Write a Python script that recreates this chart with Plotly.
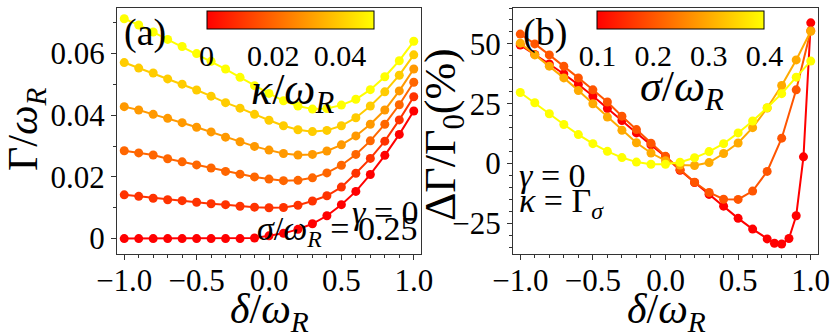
import plotly.graph_objects as go

# detuning grid (common to most curves)
DELTA = [-1.0, -0.9, -0.8, -0.7, -0.6, -0.5, -0.4, -0.3, -0.2, -0.1, 0.0,
         0.1, 0.2, 0.3, 0.4, 0.5, 0.6, 0.7, 0.8, 0.9, 1.0]

# panel (a): Gamma/omega_R for several kappa, sigma = 0.25
KAPPA = [0.0, 0.01, 0.02, 0.03, 0.04, 0.05]
GAMMA_A = [
    [0.0, 0.0, 0.0, 0.0, 0.0, 0.0, 0.0, 0.0, 0.0, 0.0002, 0.0009,
     0.0017, 0.003, 0.0048, 0.0074, 0.011, 0.0153, 0.0208, 0.027, 0.0338, 0.0414],
    [0.0142, 0.0137, 0.0131, 0.0126, 0.0123, 0.0118, 0.0113, 0.011, 0.0105, 0.0102, 0.0100,
     0.0101, 0.0108, 0.0122, 0.0139, 0.0167, 0.0212, 0.026, 0.0316, 0.0385, 0.046],
    [0.0285, 0.0278, 0.0271, 0.0259, 0.0249, 0.0239, 0.0229, 0.0218, 0.0209, 0.0200, 0.0193,
     0.0188, 0.0189, 0.0197, 0.0213, 0.0238, 0.0273, 0.0317, 0.0371, 0.0434, 0.0507],
    [0.0428, 0.0417, 0.0403, 0.0390, 0.0376, 0.0361, 0.0346, 0.0329, 0.0314, 0.0299, 0.0287,
     0.0276, 0.0271, 0.0273, 0.0284, 0.0304, 0.0333, 0.0371, 0.0417, 0.0479, 0.055],
    [0.0571, 0.0553, 0.0537, 0.0518, 0.0501, 0.0482, 0.0462, 0.0441, 0.0423, 0.0403, 0.0384,
     0.0366, 0.0353, 0.0347, 0.0351, 0.0366, 0.0392, 0.043, 0.0476, 0.053, 0.0596],
    [0.0713, 0.0693, 0.067, 0.0646, 0.0623, 0.06, 0.0575, 0.055, 0.0523, 0.0496, 0.0471,
     0.0447, 0.043, 0.042, 0.0422, 0.0433, 0.0452, 0.0483, 0.0525, 0.0577, 0.064],
]

# panel (b): relative change (%) for several sigma, kappa = Gamma_sigma
SIGMA = [0.1, 0.2, 0.3, 0.4]
DELTA_S01 = [-1.0, -0.9, -0.8, -0.7, -0.6, -0.5, -0.4, -0.3, -0.2, -0.1, 0.0,
             0.1, 0.2, 0.3, 0.4, 0.5, 0.6, 0.7, 0.75, 0.8, 0.85, 0.9, 0.95, 1.0]
DGAMMA_S01 = [49.5, 45.6, 41.6, 37.4, 33.0, 28.2, 23.0, 18.0, 12.8, 7.8, 2.8,
              -2.8, -7.9, -12.9, -17.8, -22.9, -27.4, -31.5, -33.3, -33.6, -31.3, -21.8, 2.8, 58.8]
DGAMMA_S02 = [54.1, 50.0, 45.4, 40.7, 35.8, 30.8, 25.7, 19.8, 14.2, 8.5, 3.0,
              -2.5, -7.8, -12.1, -14.9, -15.0, -11.5, -3.3, 10.6, 30.8, 55.5]
DGAMMA_S03 = [50.3, 45.4, 40.7, 35.8, 30.5, 25.0, 19.4, 13.9, 8.7, 4.4, 1.2,
              -0.6, -0.8, 0.4, 4.2, 8.6, 15.0, 23.2, 32.6, 43.3, 55.3]
DGAMMA_S04 = [29.7, 25.4, 20.8, 16.3, 12.1, 8.3, 5.1, 2.5, 0.6, -0.3, -0.3,
              0.55, 2.4, 5.0, 8.3, 12.8, 17.8, 23.3, 29.2, 36.1, 42.8]
SERIES_B = [
    (DELTA_S01, DGAMMA_S01),
    (DELTA, DGAMMA_S02),
    (DELTA, DGAMMA_S03),
    (DELTA, DGAMMA_S04),
]

W, H = 831, 336
FONT = "Liberation Serif"
AUTUMN = [[0.0, "rgb(255,0,0)"], [1.0, "rgb(255,255,0)"]]
TICK_SIZE = 31
LABEL_SIZE = 42


def px_x(x):
    return x / W


def px_y(y):
    return 1 - y / H


def autumn(t):
    return f"rgb(255,{round(255 * t)},0)"


def colorbar(center_x, tickvals, ticktext):
    return dict(
        orientation="h", x=px_x(center_x), xanchor="center", y=px_y(11), yanchor="top",
        len=167, lenmode="pixels", thickness=18, thicknessmode="pixels",
        xpad=0, ypad=0, outlinewidth=1, outlinecolor="black",
        tickvals=tickvals, ticktext=ticktext,
        ticks="", ticklen=0,
        tickfont=dict(family=FONT, size=TICK_SIZE - 1, color="black"),
    )


fig = go.Figure()

for i, (k, vals) in enumerate(zip(KAPPA, GAMMA_A)):
    t = (k - KAPPA[0]) / (KAPPA[-1] - KAPPA[0])
    marker = {"size": 9, "color": [k] * len(vals), "colorscale": AUTUMN,
              "cmin": 0.0, "cmax": 0.05}
    if i == len(KAPPA) - 1:
        marker.update(showscale=True, colorbar=colorbar(
            290, [0, 0.02, 0.04], ["0", "0.02", "0.04"]))
    fig.add_trace(go.Scatter(
        x=DELTA, y=vals, mode="lines+markers", xaxis="x", yaxis="y",
        line=dict(color=autumn(t), width=2), marker=marker, showlegend=False,
    ))

for i, (s, (xs, ys)) in enumerate(zip(SIGMA, SERIES_B)):
    t = (s - SIGMA[0]) / (SIGMA[-1] - SIGMA[0])
    marker = {"size": 9, "color": [s] * len(ys), "colorscale": AUTUMN,
              "cmin": 0.1, "cmax": 0.4}
    if i == len(SIGMA) - 1:
        marker.update(showscale=True, colorbar=colorbar(
            681, [0.1, 0.2, 0.3, 0.4], ["0.1", "0.2", "0.3", "0.4"]))
    fig.add_trace(go.Scatter(
        x=xs, y=ys, mode="lines+markers", xaxis="x2", yaxis="y2",
        line=dict(color=autumn(t), width=2), marker=marker, showlegend=False,
    ))

axis_common = dict(
    showgrid=False, zeroline=False, showline=True, mirror=True, automargin=False,
    linecolor="#333333", linewidth=1, ticks="outside", ticklen=5,
    tickcolor="#333333", tickfont=dict(family=FONT, size=TICK_SIZE, color="black"),
)
x_ticks = dict(
    range=[-1.05, 1.05],
    tickvals=[-1.0, -0.5, 0.0, 0.5, 1.0],
    ticktext=["−1.0", "−0.5", "0.0", "0.5", "1.0"],
    ticklabelstandoff=-6,
    minor=dict(dtick=0.1, ticks="outside", ticklen=3, tickcolor="#333333"),
)

fig.update_layout(
    width=W, height=H,
    margin=dict(l=0, r=0, t=0, b=0, autoexpand=False),
    paper_bgcolor="white", plot_bgcolor="white",
    font=dict(family=FONT, color="black"),
    showlegend=False,
    xaxis=dict(domain=[px_x(117), px_x(421)], anchor="y", **x_ticks, **axis_common),
    yaxis=dict(domain=[px_y(254), px_y(8)], range=[-0.005, 0.0748], anchor="x",
               tickvals=[0, 0.02, 0.04, 0.06], ticktext=["0", "0.02", "0.04", "0.06"],
               minor=dict(dtick=0.01, ticks="outside", ticklen=3, tickcolor="#333333"),
               **axis_common),
    xaxis2=dict(domain=[px_x(513), px_x(818)], anchor="y2", **x_ticks, **axis_common),
    yaxis2=dict(domain=[px_y(254), px_y(8)], range=[-37.8, 65], anchor="x2",
                tickvals=[-25, 0, 25, 50], ticktext=["−25", "0", "25", "50"],
                minor=dict(dtick=5, ticks="outside", ticklen=3, tickcolor="#333333"),
                **axis_common),
)


def note(text, x, y, xanchor, size=32, angle=0):
    fig.add_annotation(
        text=text, x=px_x(x), y=px_y(y), xref="paper", yref="paper",
        xanchor=xanchor, yanchor="middle", showarrow=False, textangle=angle,
        font=dict(family=FONT, size=size, color="black"),
    )


# axis titles
note("<i>δ</i>/<i>ω</i><sub><i>R</i></sub>", 269, 312, "center", LABEL_SIZE)
note("<i>δ</i>/<i>ω</i><sub><i>R</i></sub>", 666, 312, "center", LABEL_SIZE)
note("Γ/<i>ω</i><sub><i>R</i></sub>", 26, 129, "center", LABEL_SIZE, -90)
note("ΔΓ/Γ<sub>0</sub>(%)", 443, 134, "center", LABEL_SIZE + 2, -90)

# colorbar titles
note("<i>κ</i>/<i>ω</i><sub><i>R</i></sub>", 292, 92, "center", LABEL_SIZE + 2)
note("<i>σ</i>/<i>ω</i><sub><i>R</i></sub>", 682, 90, "center", LABEL_SIZE + 2)

# panel tags and parameters
note("(a)", 122, 33, "left", 38)
note("(b)", 521, 33, "left", 38)
note("<i>γ</i> = 0", 421, 212, "right", 34)
note("<i>σ</i>/<i>ω</i><sub><i>R</i></sub> = 0.25", 419, 231, "right", 34)
note("<i>γ</i> = 0", 517, 175, "left", 34)
note("<i>κ</i> = Γ<sub><i>σ</i></sub>", 517, 203, "left", 34)

fig.write_html("out.html", config={"displayModeBar": False},
               post_script="document.body.style.margin='0';")
